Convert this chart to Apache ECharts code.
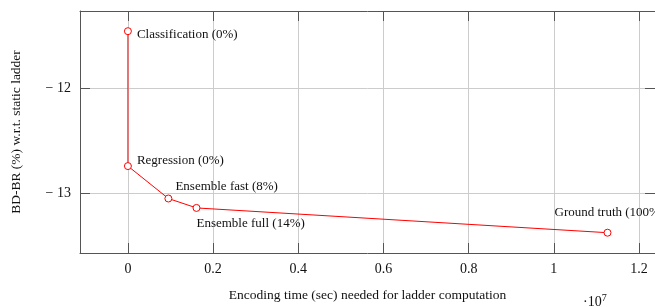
<!DOCTYPE html>
<html>
<head>
<meta charset="utf-8">
<script src="https://cdn.jsdelivr.net/npm/echarts@6/dist/echarts.min.js"></script>
<style>
  html, body { margin: 0; padding: 0; background: #fff; }
  #chart { width: 655px; height: 307px; }
</style>
</head>
<body>
<div id="chart"></div>
<script>
// encoding time in seconds, BD-BR in %
var names = ['Classification (0%)', 'Regression (0%)', 'Ensemble fast (8%)', 'Ensemble full (14%)', 'Ground truth (100%)'];
var encTime = [0, 0, 950000, 1610000, 11260000];
var bdbr = [-11.45, -12.74, -13.05, -13.14, -13.377];
var xTicks = [0, 2000000, 4000000, 6000000, 8000000, 10000000, 12000000];
var yTicks = [-13, -12];

// where each label sits relative to its marker box corner
var labelPos = [[13, 7], [13, -2], [11, -8], [4, 20], [-49, -16]];

var FONT = 'Liberation Serif';
var AXIS_COL = '#555555';
var GRID_COL = '#cccccc';

var chart = echarts.init(document.getElementById('chart'), null, { renderer: 'canvas' });

var pts = [];
for (var i = 0; i < names.length; i++) {
  pts.push({
    value: [encTime[i], bdbr[i]],
    label: {
      show: true,
      formatter: names[i],
      position: labelPos[i],
      align: 'left',
      verticalAlign: 'middle'
    }
  });
}

function xFmt(v) {
  return String(+(v / 1e7).toFixed(1));
}
function yFmt(v) {
  return String(v).replace('-', '\u2212 ');
}

var option = {
  backgroundColor: '#ffffff',
  animation: false,
  grid: { left: 80, top: 11, width: 577, height: 243 },
  xAxis: [{
    type: 'value',
    min: -1125000,
    max: 12375000,
    axisLine: { show: true, onZero: false, lineStyle: { color: AXIS_COL, width: 1 } },
    axisTick: { show: true, inside: true, length: 10, customValues: xTicks, lineStyle: { color: AXIS_COL } },
    axisLabel: { customValues: xTicks, formatter: xFmt, fontFamily: FONT, fontSize: 14, color: '#111', margin: 9 },
    splitLine: { show: true, lineStyle: { color: GRID_COL, width: 1 } },
    name: 'Encoding time (sec) needed for ladder computation',
    nameLocation: 'middle',
    nameGap: 35,
    nameTextStyle: { fontFamily: FONT, fontSize: 13.5, color: '#111' }
  }, {
    type: 'value',
    position: 'top',
    min: -1125000,
    max: 12375000,
    axisLine: { show: true, onZero: false, lineStyle: { color: AXIS_COL, width: 1 } },
    axisTick: { show: true, inside: true, length: 10, customValues: xTicks, lineStyle: { color: AXIS_COL } },
    axisLabel: { show: false },
    splitLine: { show: false }
  }],
  yAxis: [{
    type: 'value',
    min: -13.571,
    max: -11.257,
    axisLine: { show: true, onZero: false, lineStyle: { color: AXIS_COL, width: 1 } },
    axisTick: { show: true, inside: true, length: 10, customValues: yTicks, lineStyle: { color: AXIS_COL } },
    axisLabel: { customValues: yTicks, formatter: yFmt, fontFamily: FONT, fontSize: 14, color: '#111', margin: 9 },
    splitLine: { show: true, lineStyle: { color: GRID_COL, width: 1 } },
    name: 'BD-BR (%) w.r.t. static ladder',
    nameLocation: 'middle',
    nameGap: 57,
    nameTextStyle: { fontFamily: FONT, fontSize: 13.5, color: '#111' }
  }, {
    type: 'value',
    position: 'right',
    min: -13.571,
    max: -11.257,
    axisLine: { show: true, onZero: false, lineStyle: { color: AXIS_COL, width: 1 } },
    axisTick: { show: true, inside: true, length: 10, customValues: yTicks, lineStyle: { color: AXIS_COL } },
    axisLabel: { show: false },
    splitLine: { show: false }
  }],
  graphic: [{
    type: 'text',
    left: 583,
    top: 293,
    style: {
      text: '\u00b710{sup|7}',
      font: '14px "Liberation Serif"',
      fill: '#111',
      rich: { sup: { fontSize: 10, fontFamily: FONT, verticalAlign: 'top', padding: [0, 0, 8, 0] } }
    }
  }],
  series: [{
    type: 'line',
    xAxisIndex: 0,
    yAxisIndex: 0,
    data: pts,
    symbol: 'circle',
    symbolSize: 7,
    showAllSymbol: true,
    lineStyle: { color: '#ff0000', width: 1 },
    itemStyle: { color: '#ffffff', borderColor: '#ff0000', borderWidth: 1 },
    label: { fontFamily: FONT, fontSize: 13, color: '#111' },
    emphasis: { disabled: true }
  }]
};

chart.setOption(option);
</script>
</body>
</html>
